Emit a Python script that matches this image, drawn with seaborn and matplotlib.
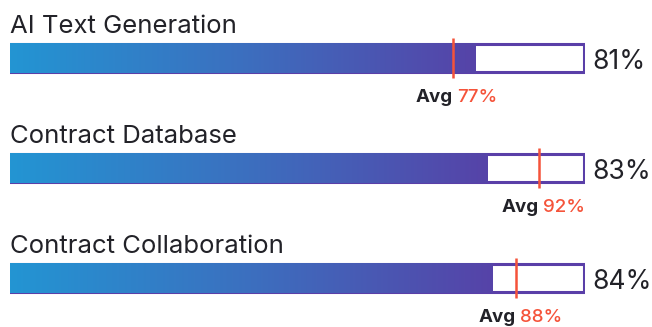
import numpy as np
import pandas as pd
import matplotlib
matplotlib.use("Agg")
import matplotlib.pyplot as plt
from matplotlib.colors import LinearSegmentedColormap
import seaborn as sns

categories = ["AI Text Generation", "Contract Database", "Contract Collaboration"]
scores = [81, 83, 84]
averages = [77, 92, 88]

sns.set_theme(style="white")
plt.rcParams["font.family"] = ["Inter", "DejaVu Sans"]

TEXT = "#222228"
ACCENT = "#F5533A"
PURPLE = "#5A3FA8"
grad_cmap = LinearSegmentedColormap.from_list("fill", ["#2395D3", "#3C6FBF", "#5643A8"])

df = pd.DataFrame({"category": categories, "score": scores, "avg": averages})

fig = plt.figure(figsize=(6.52, 3.27), dpi=100)
ax = fig.add_axes([10 / 652, 0, 575 / 652, 1])

bar_h = 30 / 110
px = 100 / 575  # data units per pixel along x

# full-width track (white with purple outline)
ax.barh(range(len(categories)), [100 - 0.25] * len(categories), left=0.125,
        height=bar_h - 2.4 / 110,
        color="white", edgecolor=PURPLE, linewidth=2.2, zorder=1)

# filled portion
sns.barplot(data=df, x="score", y="category", orient="h", ax=ax,
            width=bar_h, color=PURPLE, zorder=2)

gradient = np.linspace(0, 1, 256).reshape(1, -1)
for patch in ax.patches[len(categories):]:
    x0, y0 = patch.get_x(), patch.get_y()
    w, h = patch.get_width(), patch.get_height()
    im = ax.imshow(gradient, cmap=grad_cmap, aspect="auto",
                   extent=(x0, x0 + w, y0 + h, y0), zorder=3)
    im.set_clip_path(patch)
    patch.set_facecolor("none")
    patch.set_edgecolor("none")

for i, (cat, s, a) in enumerate(zip(categories, scores, averages)):
    ax.text(0, i - 0.227, cat, ha="left", va="baseline", fontsize=18.5,
            color=TEXT, clip_on=False)
    ax.text(100 + 7 * px, i + 0.1, f"{s}%", ha="left", va="baseline",
            fontsize=19, color=TEXT, clip_on=False)
    ax.plot([a, a], [i - 20 / 110, i + 20 / 110], color=ACCENT, lw=1.8,
            zorder=5, solid_capstyle="butt")
    ax.text(a - 0.5 * px, i + 0.4, "Avg", ha="right", va="baseline",
            fontsize=13.5, fontweight="bold", color=TEXT, clip_on=False)
    ax.text(a + 4 * px, i + 0.4, f"{a}%", ha="left", va="baseline",
            fontsize=13.5, fontweight="medium", color=ACCENT, clip_on=False)

ax.set_xlim(0, 100)
ax.set_ylim((327 - 58) / 110, -58 / 110)
ax.set_axis_off()

fig.savefig("out.png", dpi=100)
